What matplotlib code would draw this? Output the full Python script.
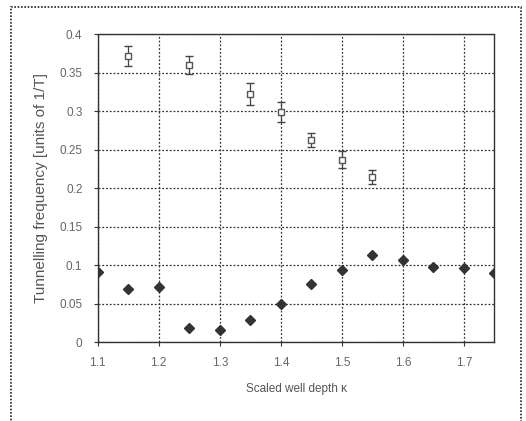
import matplotlib
matplotlib.use("Agg")
import matplotlib.pyplot as plt
from matplotlib.patches import Rectangle
from matplotlib.ticker import FuncFormatter

# closed diamonds (all well depths)
kappa_low = [1.1, 1.15, 1.2, 1.25, 1.3, 1.35, 1.4, 1.45, 1.5, 1.55, 1.6, 1.65, 1.7, 1.75]
freq_low = [0.091, 0.069, 0.072, 0.018, 0.016, 0.029, 0.049, 0.075, 0.093, 0.113, 0.106, 0.098, 0.096, 0.089]

# open squares with error bars
kappa_high = [1.15, 1.25, 1.35, 1.4, 1.45, 1.5, 1.55]
freq_high = [0.372, 0.360, 0.322, 0.299, 0.262, 0.237, 0.214]
err_high = [0.013, 0.012, 0.014, 0.013, 0.009, 0.011, 0.009]

xticks = [1.1, 1.2, 1.3, 1.4, 1.5, 1.6, 1.7]
yticks = [0, 0.05, 0.1, 0.15, 0.2, 0.25, 0.3, 0.35, 0.4]

plt.rcParams['font.family'] = ['Liberation Sans', 'DejaVu Sans']

fig = plt.figure(figsize=(5.26, 4.21), dpi=100)
ax = fig.add_axes([0.1857, 0.1876, 0.7543, 0.7316])

# outer dotted frame, excel style
fig.patches.append(Rectangle((11 / 526, -0.05), 510 / 526, 1 - 7 / 421 + 0.05,
                             transform=fig.transFigure, fill=False,
                             edgecolor='#222222', lw=1.2, linestyle=(0, (1, 1))))

ax.errorbar(kappa_high, freq_high, yerr=err_high, fmt='s', ms=5,
            mfc='white', mec='#555555', mew=1.0, ecolor='#444444',
            elinewidth=0.9, capsize=3, capthick=0.9, zorder=3)
ax.plot(kappa_low, freq_low, 'D', ms=5.5, color='#333333', zorder=3)

ax.set_xlim(1.1, 1.75)
ax.set_ylim(0, 0.4)
ax.set_xticks(xticks)
ax.set_yticks(yticks)
ax.yaxis.set_major_formatter(FuncFormatter(lambda v, p: '0' if v == 0 else ('%g' % v)))
ax.xaxis.set_major_formatter(FuncFormatter(lambda v, p: '%g' % v))

ax.grid(True, color='#333333', linestyle=(0, (1.5, 1.5)), lw=0.9)
for s in ax.spines.values():
    s.set_color('#333333')
    s.set_linestyle((0, (1.5, 1)))
    s.set_linewidth(1.0)

ax.tick_params(axis='both', direction='out', length=3, width=0.8,
               colors='#333333', labelcolor='#666666', labelsize=8.5, pad=8)

ax.set_xlabel('Scaled well depth \u03ba', fontsize=8.5, color='#555555', labelpad=10)
ax.set_ylabel('Tunnelling frequency [units of 1/T]', fontsize=11, color='#555555', labelpad=8)

fig.savefig('out.png', dpi=100)
